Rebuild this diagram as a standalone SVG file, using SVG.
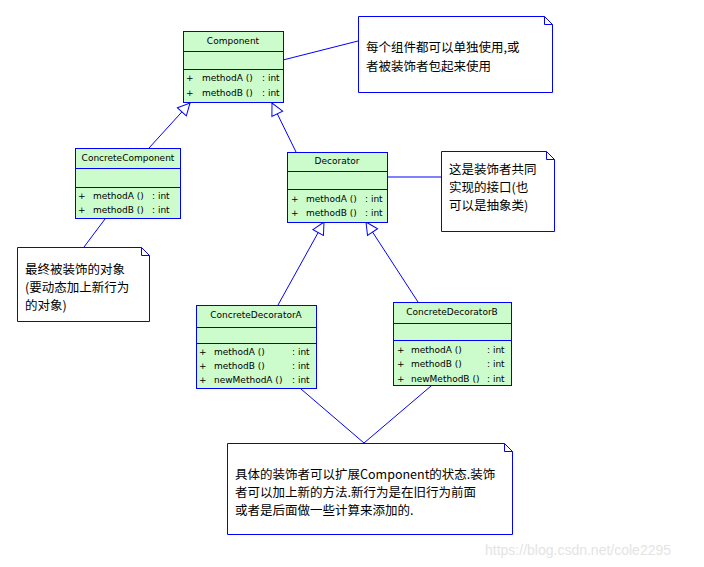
<svg xmlns="http://www.w3.org/2000/svg" width="704" height="567" viewBox="0 0 704 567">
<style>
.box{fill:#ccfccc;stroke:#0000ff;stroke-width:1}
.sep{stroke:#0000ff;stroke-width:1}
.note{fill:#ffffff;stroke:#0000ff;stroke-width:1}
.ln{stroke:#0000ff;stroke-width:1;fill:none}
.t{font-family:"DejaVu Sans","Liberation Sans",sans-serif;font-size:9px;fill:#000}
.c{text-anchor:middle}
.n{font-family:"Noto Sans CJK SC","Liberation Serif",serif;font-size:12.5px;fill:#000}
.tri{fill:#ffffff;stroke:#0000ff;stroke-width:1}
</style>
<rect width="704" height="567" fill="#ffffff"/>
<defs>
<marker id="gen" markerWidth="14" markerHeight="14" refX="13" refY="7" orient="auto" markerUnits="userSpaceOnUse">
<path d="M1,1 L13,7 L1,13 Z" class="tri"/>
</marker>
</defs>
<g id="connectors">
<line class="ln" x1="149" y1="148" x2="190" y2="103" marker-end="url(#gen)"/>
<line class="ln" x1="296" y1="152" x2="272" y2="103" marker-end="url(#gen)"/>
<line class="ln" x1="278" y1="305" x2="324" y2="222" marker-end="url(#gen)"/>
<line class="ln" x1="418" y1="302" x2="366" y2="222" marker-end="url(#gen)"/>
<line class="ln" x1="283" y1="60" x2="358" y2="41"/>
<line class="ln" x1="388" y1="177" x2="441" y2="177"/>
<line class="ln" x1="105" y1="219" x2="84" y2="247"/>
<line class="ln" x1="301" y1="389" x2="364" y2="443"/>
<line class="ln" x1="431" y1="386" x2="364" y2="443"/>
</g>
<g id="Component">
<rect class="box" x="183.5" y="31.5" width="100" height="71"/>
<line class="sep" x1="183.5" y1="51.5" x2="283.5" y2="51.5"/>
<line class="sep" x1="183.5" y1="69.5" x2="283.5" y2="69.5"/>
<text class="t c" x="233" y="44">Component</text>
<text class="t" x="186" y="81">+</text><text class="t" x="202" y="81">methodA ()</text><text class="t" x="262" y="81">: int</text>
<text class="t" x="186" y="96">+</text><text class="t" x="202" y="96">methodB ()</text><text class="t" x="262" y="96">: int</text>
</g>
<g id="ConcreteComponent">
<rect class="box" x="75.5" y="148.5" width="105" height="70"/>
<line class="sep" x1="75.5" y1="168.5" x2="180.5" y2="168.5"/>
<line class="sep" x1="75.5" y1="187.5" x2="180.5" y2="187.5"/>
<text class="t c" x="128" y="161">ConcreteComponent</text>
<text class="t" x="78" y="199">+</text><text class="t" x="93" y="199">methodA ()</text><text class="t" x="152" y="199">: int</text>
<text class="t" x="78" y="213">+</text><text class="t" x="93" y="213">methodB ()</text><text class="t" x="152" y="213">: int</text>
</g>
<g id="Decorator">
<rect class="box" x="287.5" y="152.5" width="100" height="70"/>
<line class="sep" x1="287.5" y1="171.5" x2="387.5" y2="171.5"/>
<line class="sep" x1="287.5" y1="189.5" x2="387.5" y2="189.5"/>
<text class="t c" x="337" y="164">Decorator</text>
<text class="t" x="291" y="202">+</text><text class="t" x="306" y="202">methodA ()</text><text class="t" x="365" y="202">: int</text>
<text class="t" x="291" y="216">+</text><text class="t" x="306" y="216">methodB ()</text><text class="t" x="365" y="216">: int</text>
</g>
<g id="ConcreteDecoratorA">
<rect class="box" x="196.5" y="305.5" width="120" height="83"/>
<line class="sep" x1="196.5" y1="327.5" x2="316.5" y2="327.5"/>
<line class="sep" x1="196.5" y1="343.5" x2="316.5" y2="343.5"/>
<text class="t c" x="256" y="318">ConcreteDecoratorA</text>
<text class="t" x="199" y="355">+</text><text class="t" x="214" y="355">methodA ()</text><text class="t" x="292" y="355">: int</text>
<text class="t" x="199" y="369">+</text><text class="t" x="214" y="369">methodB ()</text><text class="t" x="292" y="369">: int</text>
<text class="t" x="199" y="383">+</text><text class="t" x="214" y="383">newMethodA ()</text><text class="t" x="292" y="383">: int</text>
</g>
<g id="ConcreteDecoratorB">
<rect class="box" x="393.5" y="302.5" width="118" height="83"/>
<line class="sep" x1="393.5" y1="323.5" x2="511.5" y2="323.5"/>
<line class="sep" x1="393.5" y1="340.5" x2="511.5" y2="340.5"/>
<text class="t c" x="452" y="315">ConcreteDecoratorB</text>
<text class="t" x="397" y="353">+</text><text class="t" x="411" y="353">methodA ()</text><text class="t" x="487" y="353">: int</text>
<text class="t" x="397" y="367">+</text><text class="t" x="411" y="367">methodB ()</text><text class="t" x="487" y="367">: int</text>
<text class="t" x="397" y="382">+</text><text class="t" x="411" y="382">newMethodB ()</text><text class="t" x="487" y="382">: int</text>
</g>
<g id="note1">
<path class="note" d="M358.5,16.5 H544.5 L552.5,24.5 V92.5 H358.5 Z"/>
<path class="ln" d="M544.5,16.5 V24.5 H552.5"/>
<text class="n" x="366" y="52">每个组件都可以单独使用,或</text>
<text class="n" x="366" y="71">者被装饰者包起来使用</text>
</g>
<g id="note2">
<path class="note" d="M441.5,151.5 H546.5 L554.5,159.5 V231.5 H441.5 Z"/>
<path class="ln" d="M546.5,151.5 V159.5 H554.5"/>
<text class="n" x="449" y="174">这是装饰者共同</text>
<text class="n" x="449" y="192">实现的接口(也</text>
<text class="n" x="449" y="210">可以是抽象类)</text>
</g>
<g id="note3">
<path class="note" d="M17.5,247.5 H141.5 L149.5,255.5 V321.5 H17.5 Z"/>
<path class="ln" d="M141.5,247.5 V255.5 H149.5"/>
<text class="n" x="25" y="274">最终被装饰的对象</text>
<text class="n" x="25" y="292">(要动态加上新行为</text>
<text class="n" x="25" y="310">的对象)</text>
</g>
<g id="note4">
<path class="note" d="M227.5,443.5 H504.5 L512.5,451.5 V534.5 H227.5 Z"/>
<path class="ln" d="M504.5,443.5 V451.5 H512.5"/>
<text class="n" x="235" y="479">具体的装饰者可以扩展Component的状态.装饰</text>
<text class="n" x="235" y="497">者可以加上新的方法.新行为是在旧行为前面</text>
<text class="n" x="235" y="515">或者是后面做一些计算来添加的.</text>
</g>
<text x="485" y="555" style="font-family:'Liberation Sans',sans-serif;font-size:14px;fill:#e4e4e4">https://blog.csdn.net/cole2295</text>
</svg>
